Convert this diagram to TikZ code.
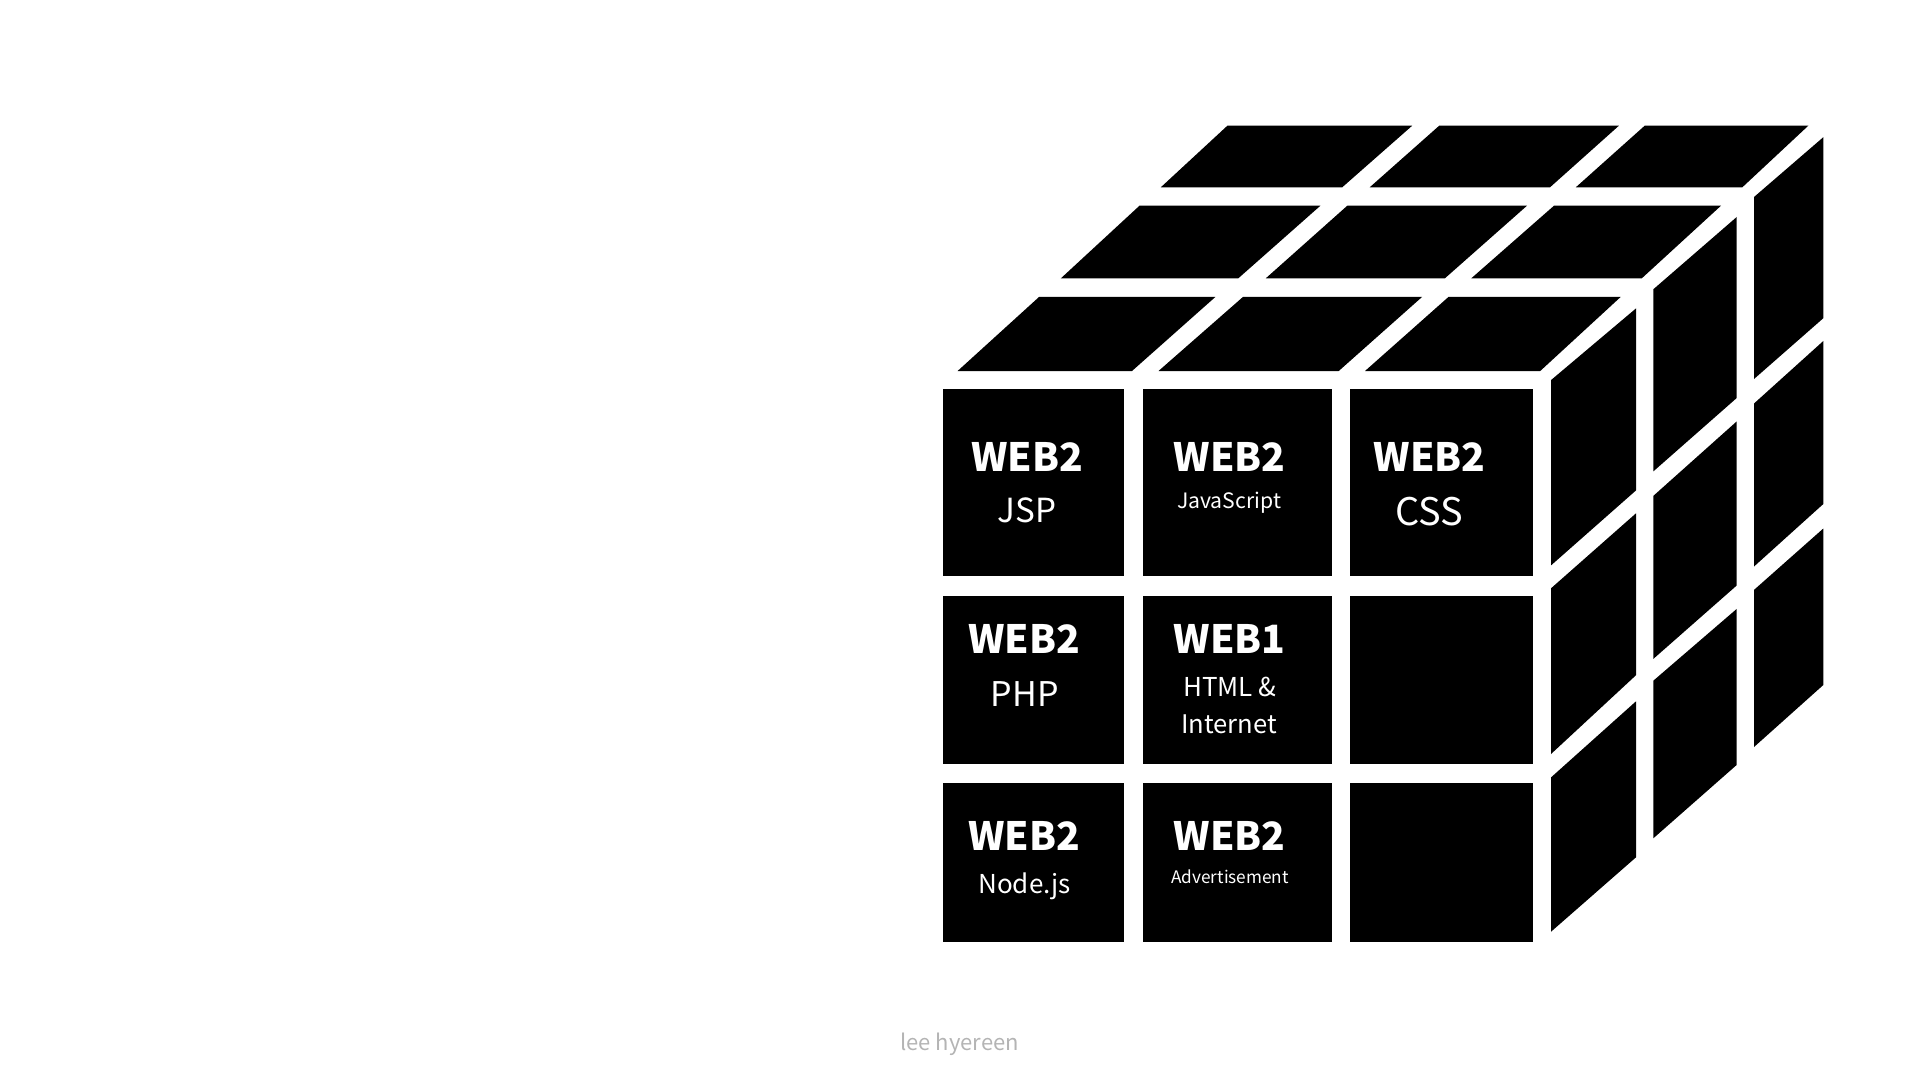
\documentclass[tikz,border=0pt]{standalone}
\usepackage{fontspec}
\setmainfont{Noto Sans CJK KR}
\usepackage{tikz}
\usetikzlibrary{positioning}
\definecolor{CubeBlack}{HTML}{000000}
\definecolor{SignGray}{HTML}{B4B4B4}
\tikzset{
  TL/.style={fill=CubeBlack},
  HD/.style={anchor=base,text=white,inner sep=0pt,
             font=\fontsize{19.5}{22}\selectfont\bfseries},
  SB/.style={anchor=base,text=white,inner sep=0pt},
  SG/.style={anchor=base,text=SignGray,inner sep=0pt,
             font=\fontsize{11}{13}\selectfont}
}

\begin{document}
\begin{tikzpicture}[x=0.5pt,y=-0.5pt]
  \useasboundingbox (0,0) rectangle (1920,1080);

  \foreach \xa/\xb in {943/1124,1143/1332,1350/1533}
    \foreach \ya/\yb in {389/576,596/764,783/942}
      \fill[TL] (\xa,\ya) rectangle (\xb,\yb);

  \foreach \bl/\br/\tr/\tl/\yb/\yt in {
      957.6/1132/1215.3/1039/371/297, 1158.5/1338.7/1422/1242.9/371/297,
      1365/1540.2/1620.6/1448.4/371/297,
      1060.9/1238.3/1320.4/1139.5/278.3/205.7, 1265.8/1444.9/1527/1347.3/278.3/205.7,
      1471.3/1641.8/1721/1554/278.3/205.7,
      1160.8/1342.2/1412.2/1227.4/187.3/125.7, 1369.7/1550/1618.9/1439.2/187.3/125.7,
      1575.8/1742.3/1808.3/1644.7/187.3/125.7}
    \fill[TL] (\bl,\yb) -- (\br,\yb) -- (\tr,\yt) -- (\tl,\yt) -- cycle;

  \foreach \xl/\xr/\ytl/\ytr/\ybr/\ybl in {
      1551/1636/380.1/308.4/490.4/565.4, 1551/1636/588.3/513.3/675.2/754,
      1551/1636/777.4/701.3/857.3/931.7,
      1653.3/1736.7/289.3/217/398/471.4, 1653.3/1736.7/495.9/421.4/585.5/658.9,
      1653.3/1736.7/680.7/608.9/764.9/838.3,
      1754/1823.3/197/137.2/318.2/379, 1754/1823.3/403.5/341/504/566.5,
      1754/1823.3/589.9/528.5/685/747}
    \fill[TL] (\xl,\ytl) -- (\xr,\ytr) -- (\xr,\ybr) -- (\xl,\ybl) -- cycle;

  \node[HD] (jspH) at (1027,471) {WEB2};
  \node[SB,font=\fontsize{16.6}{18}\selectfont] (jsp) at (1027,522) {JSP};
  \node[HD] (jsH) at (1229.5,471) {WEB2};
  \node[SB,font=\fontsize{10.6}{12}\selectfont] (js) at (1229,508) {JavaScript};
  \node[HD] (cssH) at (1429.6,471) {WEB2};
  \node[SB,font=\fontsize{19}{21}\selectfont] (css) at (1429.5,525) {CSS};
  \node[HD] (phpH) at (1024,653) {WEB2};
  \node[SB,font=\fontsize{17}{19}\selectfont] (php) at (1024.7,706) {PHP};
  \node[HD] (htmlH) at (1229.5,653) {WEB1};
  \node[SB,font=\fontsize{13}{15}\selectfont] (html) at (1229.7,696.7) {HTML \&};
  \node[SB,font=\fontsize{12.8}{15}\selectfont] (inet) at (1229,733.7) {Internet};
  \node[HD] (nodeH) at (1024,850) {WEB2};
  \node[SB,font=\fontsize{13}{15}\selectfont] (node) at (1024.5,893) {Node.js};
  \node[HD] (adH) at (1229.5,850) {WEB2};
  \node[SB,font=\fontsize{8.6}{10}\selectfont] (ad) at (1230,883) {Advertisement};
  \node[SG] (sign) at (959.5,1050) {lee hyereen};
\end{tikzpicture}
\end{document}
